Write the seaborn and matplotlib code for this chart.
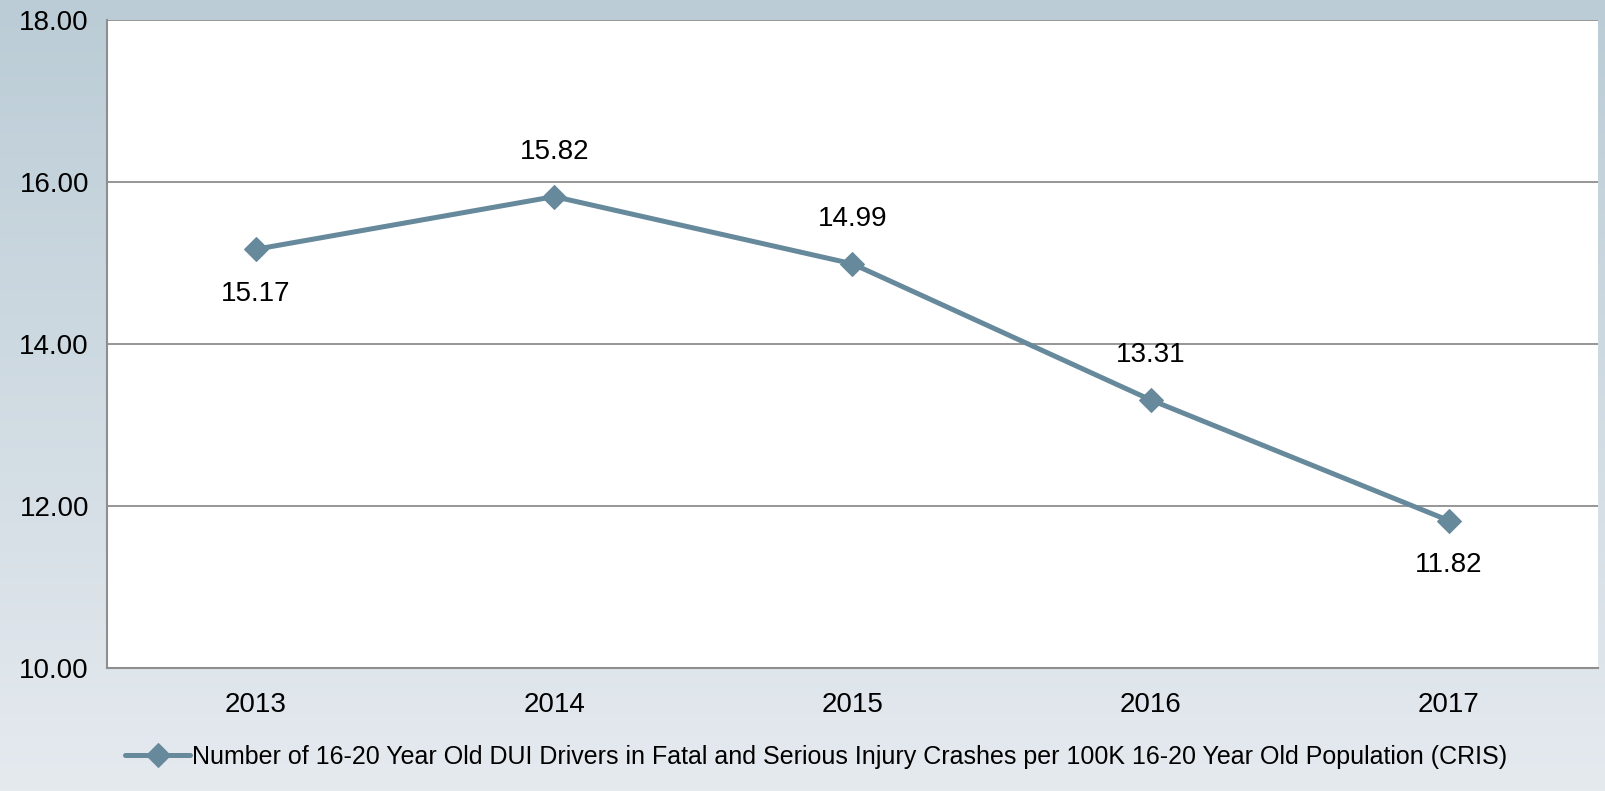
import numpy as np
import matplotlib
matplotlib.use("Agg")
import matplotlib.pyplot as plt
import seaborn as sns
import pandas as pd

years = ["2013", "2014", "2015", "2016", "2017"]
rates = [15.17, 15.82, 14.99, 13.31, 11.82]
label_pos = ["below", "above", "above", "above", "below"]
series_name = ("Number of 16-20 Year Old DUI Drivers in Fatal and Serious Injury "
               "Crashes per 100K 16-20 Year Old Population (CRIS)")

sns.set_style("white")
plt.rcParams["font.family"] = ["Liberation Sans", "DejaVu Sans"]
plt.rcParams["text.color"] = "black"
plt.rcParams["xtick.labelcolor"] = "black"
plt.rcParams["ytick.labelcolor"] = "black"

line_color = "#66899c"
grid_color = "#8e8e8e"

fig = plt.figure(figsize=(16.06, 7.91), dpi=100)

# fond en dégradé
bg = fig.add_axes([0, 0, 1, 1], zorder=-10)
grad = np.linspace(0, 1, 256).reshape(-1, 1)
top = np.array([187, 204, 214]) / 255
bottom = np.array([229, 234, 239]) / 255
img = top + (bottom - top) * grad[..., None]
bg.imshow(img, aspect="auto", extent=[0, 1, 0, 1])
bg.set_axis_off()

ax = fig.add_axes([0.0666, 0.1555, 0.9284, 0.8192])
ax.set_facecolor("white")

df = pd.DataFrame({"year": years, "rate": rates})
sns.lineplot(data=df, x="year", y="rate", ax=ax, color=line_color, lw=3.6,
             marker="D", markersize=12, markeredgecolor=line_color,
             label=series_name, sort=False)

ax.set_ylim(10, 18)
ax.set_xlim(-0.5, len(years) - 0.5)
ax.set_yticks([10, 12, 14, 16, 18])
ax.set_yticklabels([f"{v:.2f}" for v in [10, 12, 14, 16, 18]])
ax.yaxis.grid(True, color=grid_color, lw=1.3)
ax.set_axisbelow(True)

ax.set_xticks(np.arange(-0.5, len(years)), minor=True)
ax.set_xticks(range(len(years)))
ax.set_xticklabels(years)
ax.tick_params(axis="x", which="major", length=0, pad=17, labelsize=20)
ax.tick_params(axis="x", which="minor", length=6, color=grid_color, width=1.3)
ax.tick_params(axis="y", length=6, color=grid_color, width=1.3, labelsize=20, pad=7)
ax.set_xlabel("")
ax.set_ylabel("")

for s in ["top", "right"]:
    ax.spines[s].set_visible(False)
for s in ["left", "bottom"]:
    ax.spines[s].set_color(grid_color)
    ax.spines[s].set_linewidth(1.5)

for i, (v, pos) in enumerate(zip(rates, label_pos)):
    off = -32 if pos == "below" else 32
    ax.annotate(f"{v:.2f}", (i, v), xytext=(0, off), textcoords="offset points",
                ha="center", va="center", fontsize=20, color="black")

leg = ax.legend(loc="center", bbox_to_anchor=(0.4756, -0.137), frameon=False,
                fontsize=18, handlelength=2.6, handletextpad=0.05)
for t in leg.get_texts():
    t.set_color("black")

fig.savefig("out.png", dpi=100)
